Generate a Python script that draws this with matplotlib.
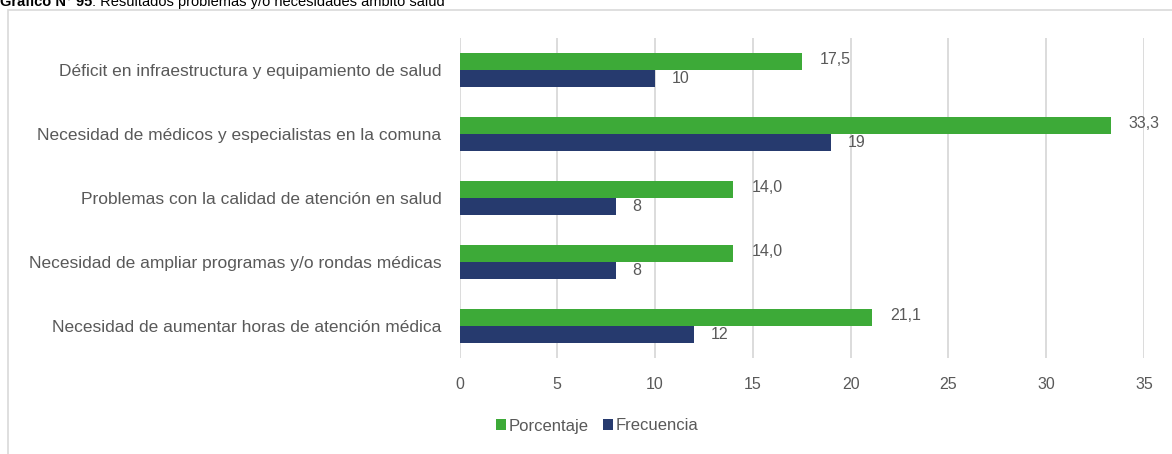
import matplotlib
matplotlib.use("Agg")
import matplotlib.pyplot as plt
from matplotlib.patches import Rectangle
import numpy as np

categories = [
    "Déficit en infraestructura y equipamiento de salud",
    "Necesidad de médicos y especialistas en la comuna",
    "Problemas con la calidad de atención en salud",
    "Necesidad de ampliar programas y/o rondas médicas",
    "Necesidad de aumentar horas de atención médica",
]
porcentaje = [17.5, 33.3, 14.0, 14.0, 21.1]
frecuencia = [10, 19, 8, 8, 12]
xticks = [0, 5, 10, 15, 20, 25, 30, 35]

plt.rcParams['font.family'] = ['Liberation Sans', 'DejaVu Sans']

green = '#3DAA38'
navy = '#263A6E'
gray_txt = '#595959'

fig = plt.figure(figsize=(11.72, 4.54), dpi=100)
W, H = 1172, 454
ax = fig.add_axes([459.5 / W, 1 - 358 / H, (1144 - 459.5) / W, (358 - 38) / H])

y = np.arange(len(categories))
h = 0.26
ax.barh(y - h / 2, porcentaje, height=h, color=green, label='Porcentaje', zorder=3)
ax.barh(y + h / 2, frecuencia, height=h, color=navy, label='Frecuencia', zorder=3)

# data labels
for yi, p, f in zip(y, porcentaje, frecuencia):
    ax.annotate(f"{p:.1f}".replace('.', ','), (p, yi - h / 2 - 0.04), xytext=(13, 0),
                textcoords='offset points', va='center', ha='left', fontsize=11.5, color=gray_txt)
    ax.annotate(str(f), (f, yi + h / 2), xytext=(12, 0),
                textcoords='offset points', va='center', ha='left', fontsize=11.5, color=gray_txt)

ax.set_ylim(len(categories) - 0.5, -0.5)
ax.set_xlim(0, 35)
ax.set_xticks(xticks)
ax.set_yticks(y)
ax.set_yticklabels(categories, fontsize=12.5, color=gray_txt)
ax.tick_params(axis='x', labelsize=11.5, colors=gray_txt, length=0, pad=14)
ax.tick_params(axis='y', length=0, pad=13)
ax.grid(axis='x', color='#D9D9D9', linewidth=1.3, zorder=0)
for s in ax.spines.values():
    s.set_visible(False)

fig.legend(loc='center', bbox_to_anchor=(597 / W, 1 - 426 / H), ncol=2, frameon=False,
           fontsize=12, handlelength=0.6, handleheight=0.6, handletextpad=0.15,
           columnspacing=0.9, labelcolor=gray_txt)

# outer frame of the chart area
fig.patches.append(Rectangle((8 / W, -0.01), 1.2, 1 - 10 / H + 0.01, transform=fig.transFigure,
                             fill=False, edgecolor='#D9D9D9', linewidth=1.2))

# title (partly cut at the top, as in the source)
t1 = fig.text(0.0, 1 - 2 / H, "Gráfico N° 95", fontsize=10.5, fontweight='bold',
              va='center', ha='left')
ax.annotate(": Resultados problemas y/o necesidades ámbito salud", xy=(1, 0.5),
            xycoords=t1, va='center', ha='left', fontsize=10.5, annotation_clip=False)

fig.savefig('out.png', dpi=100)
